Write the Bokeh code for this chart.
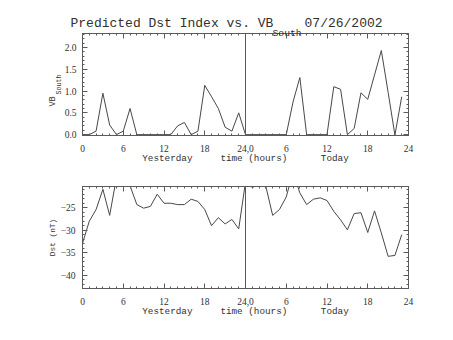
from bokeh.plotting import figure
from bokeh.models import Range1d, FixedTicker, LinearAxis, Span, Title, PrintfTickFormatter
from bokeh.layouts import column
from bokeh.embed import file_html
from bokeh.resources import INLINE

# ---------------- data ----------------
hours = list(range(48))
vb_south = [0.0, 0.0, 0.08, 0.95, 0.22, 0.0, 0.08, 0.60, 0.0, 0.0, 0.0, 0.0,
            0.0, 0.0, 0.20, 0.28, 0.0, 0.08, 1.13, 0.87, 0.60, 0.17, 0.08, 0.50,
            0.0, 0.0, 0.0, 0.0, 0.0, 0.0, 0.0, 0.75, 1.31, 0.0, 0.0, 0.0,
            0.0, 1.10, 1.04, 0.0, 0.14, 0.96, 0.81, 1.37, 1.93, 0.97, -0.01, 0.87]
dst = [-32.9, -28.0, -25.4, -20.9, -26.7, -18.3, -17.5, -20.1, -24.3, -25.1, -24.7, -22.0,
       -24.0, -24.0, -24.3, -24.3, -23.1, -23.6, -25.4, -29.0, -27.2, -28.6, -27.6, -29.7,
       -19.3, -20.5, -19.8, -20.3, -26.7, -25.4, -22.6, -17.0, -21.7, -24.3, -23.1, -22.8,
       -23.4, -25.8, -27.7, -29.9, -26.3, -26.1, -30.5, -25.7, -30.6, -35.8, -35.6, -31.0]

x_ticks = [0, 6, 12, 18, 24, 30, 36, 42, 48]
x_tick_labels = ["0", "6", "12", "18", "24,0", "6", "12", "18", "24"]
x_minor = list(range(49))
vb_ticks = [0.0, 0.5, 1.0, 1.5, 2.0]
vb_minor = [i / 10 for i in range(0, 24)]
dst_ticks = [-40, -35, -30, -25]
dst_tick_labels = ["\u221240", "\u221235", "\u221230", "\u221225"]
dst_minor = list(range(-42, -20))
title_text = "Predicted Dst Index vs. VB"
title_sub = "South"
date_text = "07/26/2002"
xlabel_parts = ["Yesterday", "time (hours)", "Today"]
vb_label, vb_sub = "VB", "South"
dst_label = "Dst (nT)"
day_boundary = 24

# ---------------- style ----------------
AX = "#5a5a5a"
LINE = "#484848"
TXT = "#303030"
MONO = "Liberation Mono"
SERIF = "Liberation Serif"
NB = "\u00a0"

W, H = 453, 170
L, R = 82, 408

xlabel_text = xlabel_parts[0] + NB * 5 + xlabel_parts[1] + NB * 6 + xlabel_parts[2]


def style_axis(ax, ticker, show_labels, standoff=8):
    ax.ticker = ticker
    ax.axis_line_color = AX
    ax.major_tick_line_color = AX
    ax.minor_tick_line_color = AX
    ax.major_tick_in = 5
    ax.major_tick_out = 0
    ax.minor_tick_in = 2
    ax.minor_tick_out = 0
    ax.major_label_text_font = SERIF
    ax.major_label_text_font_size = "9.5px"
    ax.major_label_text_color = TXT if show_labels else None
    ax.major_label_standoff = standoff
    ax.axis_label_text_font = MONO
    ax.axis_label_text_font_style = "normal"
    ax.axis_label_text_color = TXT


def make_panel(ymin, ymax, top, bottom, yticks, yminor):
    p = figure(width=W, height=H, x_range=Range1d(0, 48), y_range=Range1d(ymin, ymax),
               output_backend="svg", toolbar_location=None,
               min_border_left=L, min_border_right=W - R,
               min_border_top=top, min_border_bottom=H - bottom)
    p.xgrid.visible = False
    p.ygrid.visible = False
    p.outline_line_color = AX
    p.background_fill_color = "white"
    p.border_fill_color = "white"
    xa = p.below[0]
    ya = p.left[0]

    top_ax = LinearAxis()
    style_axis(top_ax, FixedTicker(ticks=x_ticks, minor_ticks=x_minor), False, 0)
    p.add_layout(top_ax, "above")
    right_ax = LinearAxis()
    style_axis(right_ax, FixedTicker(ticks=yticks, minor_ticks=yminor), False, 0)
    p.add_layout(right_ax, "right")

    style_axis(xa, FixedTicker(ticks=x_ticks, minor_ticks=x_minor), True, 9)
    xa.major_label_overrides = {t: s for t, s in zip(x_ticks, x_tick_labels)}
    xa.axis_label = xlabel_text
    xa.axis_label_text_font_size = "9.3px"
    xa.axis_label_standoff = -2
    style_axis(ya, FixedTicker(ticks=yticks, minor_ticks=yminor), True, 6)
    p.add_layout(Span(location=day_boundary, dimension="height", line_color=AX, line_width=1))
    return p, xa, ya


# top panel
p1, xa1, ya1 = make_panel(-0.02, 2.32, 33, 135, vb_ticks, vb_minor)
ya1.formatter = PrintfTickFormatter(format="%.1f")
ya1.axis_label = vb_sub
ya1.axis_label_text_font_size = "6.6px"
ya1.axis_label_standoff = -1
p1.line(hours, vb_south, line_color=LINE, line_width=1)
p1.add_layout(Title(text=vb_label, align="left", offset=29, standoff=-10,
                    text_font=MONO, text_font_size="8.5px", text_font_style="normal",
                    text_color=TXT), "left")
p1.add_layout(Title(text=title_sub, align="left", offset=190, standoff=-10,
                    text_font=MONO, text_font_size="9.7px", text_font_style="normal",
                    text_color=TXT), "above")
p1.add_layout(Title(text=title_text + NB * 4 + date_text, align="left", offset=-12,
                    standoff=0, text_font=MONO, text_font_size="13px",
                    text_font_style="normal", text_color=TXT), "above")

# bottom panel
p2, xa2, ya2 = make_panel(-42.95, -20.28, 16, 118, dst_ticks, dst_minor)
ya2.major_label_overrides = {t: s for t, s in zip(dst_ticks, dst_tick_labels)}
ya2.major_label_standoff = 7
ya2.axis_label = dst_label
ya2.axis_label_text_font_size = "7.8px"
ya2.axis_label_standoff = 1
p2.line(hours, dst, line_color=LINE, line_width=1)

layout = column(p1, p2, spacing=0)
open("out.html", "w").write(file_html(layout, INLINE))
